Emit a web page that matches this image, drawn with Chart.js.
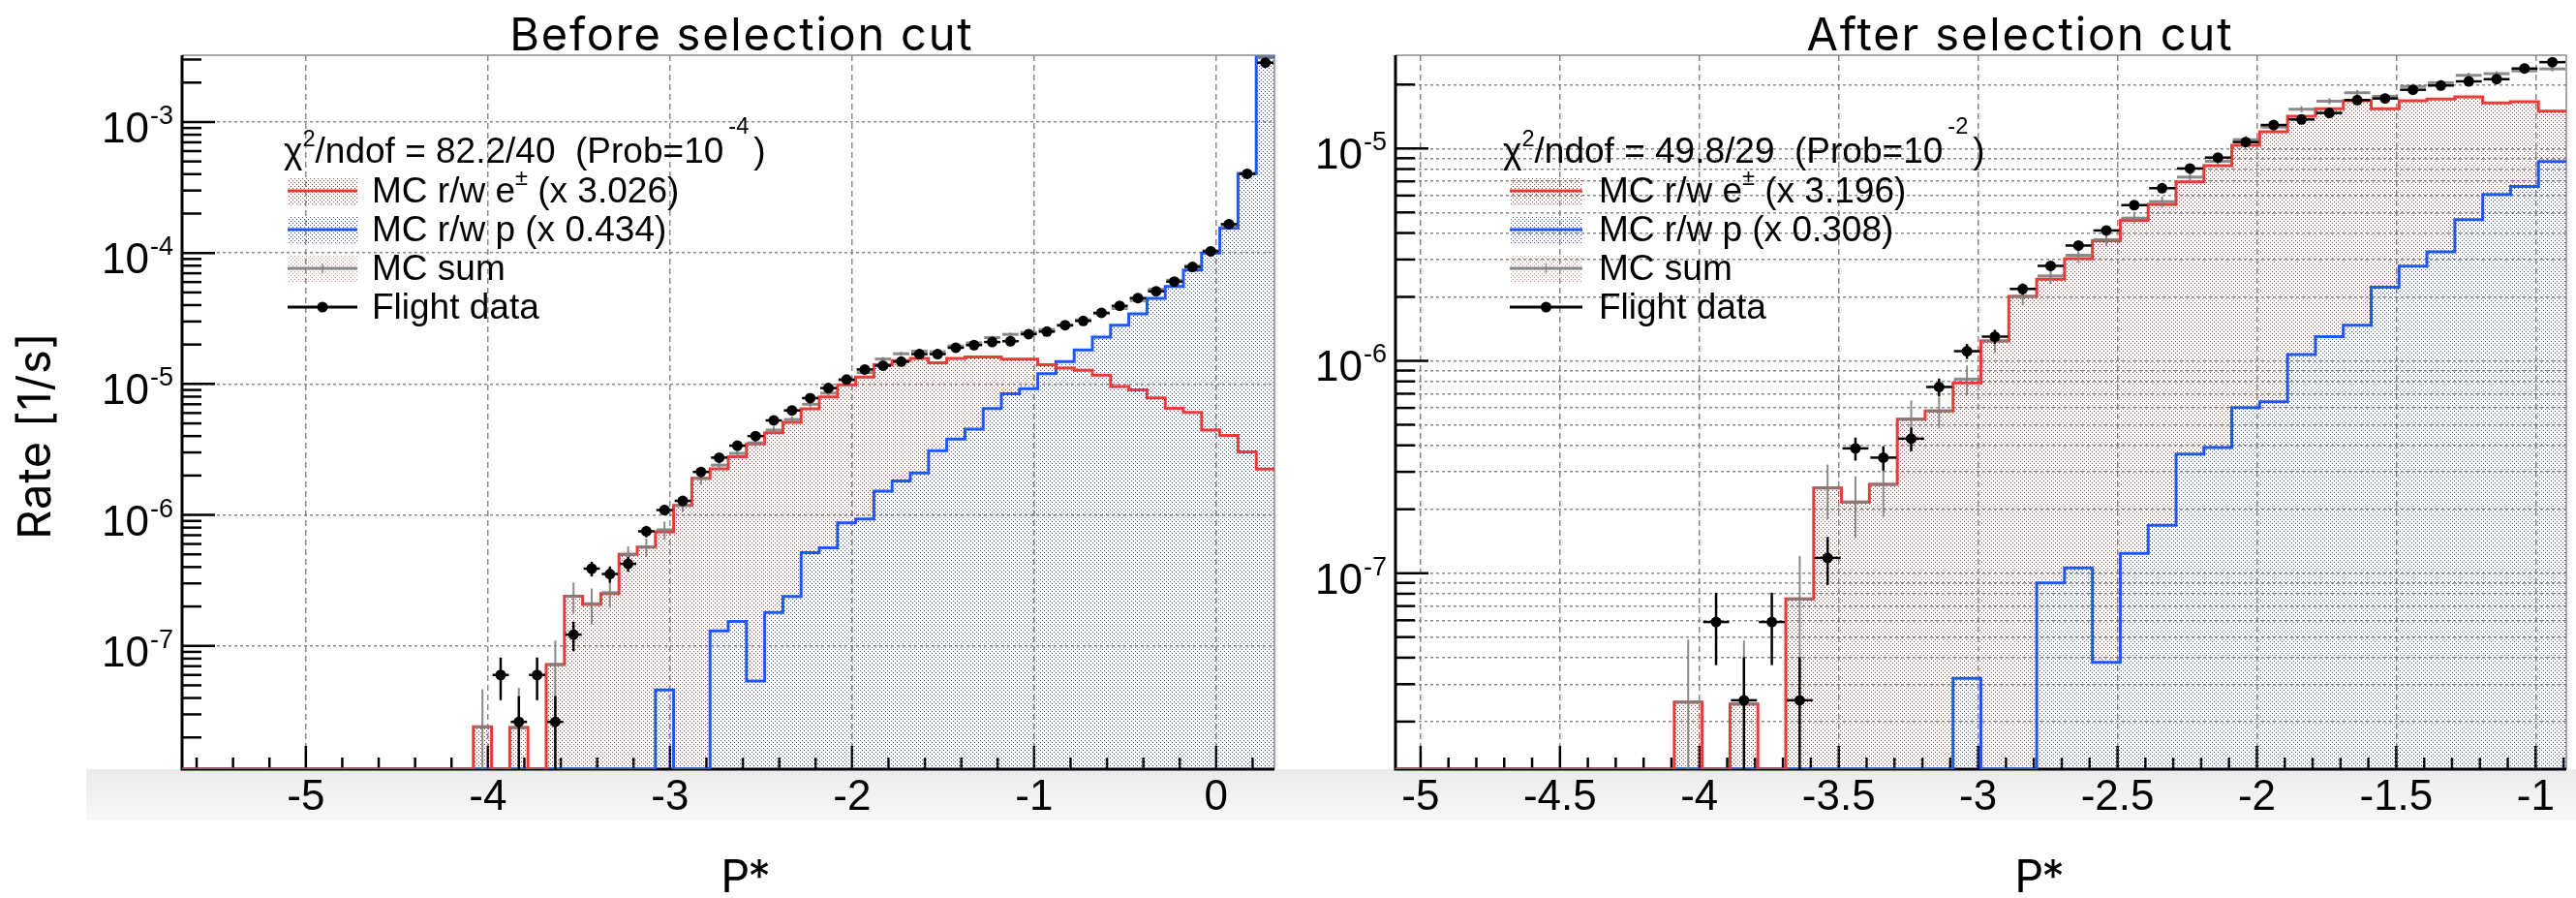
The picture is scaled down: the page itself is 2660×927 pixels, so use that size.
<!DOCTYPE html>
<html>
<head>
<meta charset="utf-8">
<title>P* rate before and after selection cut</title>
<script src="https://cdn.jsdelivr.net/npm/chart.js@4.4.1/dist/chart.umd.min.js"></script>
<style>
  html, body { margin:0; padding:0; background:#fff; }
  body { width:2660px; height:927px; position:relative; overflow:hidden; }
  #band { position:absolute; left:89px; top:794px; width:2571px; height:53px; background:linear-gradient(#ebebeb, #f8f8f8); }
  .panel { position:absolute; top:0; width:1330px; height:927px; }
  #panelL { left:0; }
  #panelR { left:1330px; }
</style>
</head>
<body>
<div id="band"></div>
<div class="panel" id="panelL"><canvas id="chartL"></canvas></div>
<div class="panel" id="panelR"><canvas id="chartR"></canvas></div>
<script>
// ------------------------------------------------------------------
// Data, 0.1-wide bins of P*
// ------------------------------------------------------------------
const BIN_WIDTH = 0.1;

// Left panel: "Before selection cut", 60 bins, first low edge -5.68
const LEFT_FIRST_EDGE = -5.68;
const LEFT_X_RANGE = [-5.68, 0.32];
const LEFT_Y_RANGE = [1.145e-8, 3.237e-3];
const LEFT_X_LABELS = [-5, -4, -3, -2, -1, 0];
const LEFT_Y_DECADES = [-3, -4, -5, -6, -7];
const LEFT_EPM = [
  0,0,0,0,0,0,0,0,0,0,
  0,0,0,0,0,0,2.41e-8,0,2.38e-8,0,
  7.2e-8,2.39e-7,2.07e-7,2.51e-7,5.0e-7,5.67e-7,7.43e-7,1.18e-6,1.90e-6,2.25e-6,
  2.78e-6,3.48e-6,4.24e-6,5.1e-6,6.45e-6,7.96e-6,9.83e-6,1.13e-5,1.40e-5,1.51e-5,
  1.57e-5,1.45e-5,1.57e-5,1.61e-5,1.61e-5,1.55e-5,1.55e-5,1.40e-5,1.32e-5,1.27e-5,
  1.17e-5,9.55e-6,9.0e-6,7.83e-6,6.53e-6,6.07e-6,4.44e-6,4.05e-6,3.03e-6,2.24e-6
];
const LEFT_PROTON = [
  0,0,0,0,0,0,0,0,0,0,
  0,0,0,0,0,0,0,0,0,0,
  0,0,0,0,0,0,4.6e-8,0,0,1.30e-7,
  1.54e-7,5.4e-8,1.8e-7,2.38e-7,5.15e-7,5.6e-7,8.7e-7,9.3e-7,1.52e-6,1.82e-6,
  2.09e-6,3.1e-6,3.8e-6,4.51e-6,6.5e-6,8.4e-6,9.2e-6,1.2e-5,1.48e-5,1.82e-5,
  2.28e-5,2.81e-5,3.43e-5,4.5e-5,5.56e-5,7.4e-5,1.0e-4,1.55e-4,4.03e-4,3.13e-3
];
const LEFT_SUM = [
  0,0,0,0,0,0,0,0,0,0,
  0,0,0,0,0,0,2.41e-8,0,2.38e-8,0,
  7.2e-8,2.4e-7,2.1e-7,2.55e-7,5.0e-7,5.7e-7,7.7e-7,1.18e-6,1.9e-6,2.4e-6,
  2.95e-6,3.55e-6,4.45e-6,5.35e-6,7.0e-6,8.5e-6,1.07e-5,1.22e-5,1.55e-5,1.7e-5,
  1.78e-5,1.76e-5,1.95e-5,2.06e-5,2.26e-5,2.39e-5,2.47e-5,2.6e-5,2.8e-5,3.09e-5,
  3.45e-5,3.77e-5,4.33e-5,5.28e-5,6.2e-5,8.0e-5,1.04e-4,1.59e-4,4.06e-4,3.13e-3
];
const LEFT_SUM_ERR = [
  0,0,0,0,0,0,0,0,0,0,
  0,0,0,0,0,0,2.25e-8,0,2.4e-8,0,
  3.8e-8,6.5e-8,6.4e-8,6e-8,7.5e-8,9e-8,1.2e-7,1.2e-7,2e-7,2e-7,
  2.2e-7,2.5e-7,2.8e-7,3e-7,3.5e-7,4e-7,4.5e-7,5e-7,5.5e-7,6e-7,
  6e-7,6e-7,6.5e-7,7e-7,7e-7,7.5e-7,8e-7,8e-7,8.5e-7,9e-7,
  1e-6,1.1e-6,1.2e-6,1.4e-6,1.6e-6,2e-6,2.5e-6,3.5e-6,7e-6,3e-5
];
const LEFT_DATA = [
  0,0,0,0,0,0,0,0,0,0,
  0,0,0,0,0,0,0,6.0e-8,2.63e-8,6.0e-8,
  2.63e-8,1.22e-7,3.89e-7,3.54e-7,4.23e-7,7.5e-7,1.09e-6,1.28e-6,2.13e-6,2.74e-6,
  3.38e-6,4.0e-6,5.27e-6,6.28e-6,7.8e-6,9.3e-6,1.08e-5,1.29e-5,1.38e-5,1.48e-5,
  1.69e-5,1.69e-5,1.89e-5,1.98e-5,2.09e-5,2.12e-5,2.4e-5,2.51e-5,2.81e-5,3.03e-5,
  3.49e-5,3.95e-5,4.53e-5,5.1e-5,6.05e-5,7.83e-5,1.03e-4,1.66e-4,4.02e-4,2.84e-3
];
const LEFT_DATA_ERR = [
  0,0,0,0,0,0,0,0,0,0,
  0,0,0,0,0,0,0,2.15e-8,1.5e-8,2.15e-8,
  1.5e-8,3.1e-8,5.0e-8,5.0e-8,5.5e-8,7.5e-8,9e-8,1.0e-7,1.3e-7,1.5e-7,
  1.6e-7,1.8e-7,2.0e-7,2.2e-7,2.5e-7,2.7e-7,2.9e-7,3.2e-7,3.3e-7,3.4e-7,
  3.7e-7,3.7e-7,3.9e-7,4.0e-7,4.1e-7,4.1e-7,4.4e-7,4.5e-7,4.7e-7,4.9e-7,
  5.3e-7,5.6e-7,6.0e-7,6.4e-7,7.0e-7,7.9e-7,9.1e-7,1.15e-6,1.8e-6,4.8e-6
];
const LEFT_LEGEND_SCALES = ['3.026', '0.434'];
const LEFT_CHI2 = ['82.2/40', '-4'];

// Right panel: "After selection cut", 42 bins, first low edge -5.09
const RIGHT_FIRST_EDGE = -5.09;
const RIGHT_X_RANGE = [-5.09, -0.89];
const RIGHT_Y_RANGE = [1.194e-8, 2.749e-5];
const RIGHT_X_LABELS = [-5, -4.5, -4, -3.5, -3, -2.5, -2, -1.5, -1];
const RIGHT_Y_DECADES = [-5, -6, -7];
const RIGHT_EPM = [
  0,0,0,0,0,0,0,0,0,0,
  2.47e-8,0,2.42e-8,0,7.56e-8,2.52e-7,2.16e-7,2.62e-7,5.31e-7,5.81e-7,
  7.88e-7,1.24e-6,2.01e-6,2.42e-6,3.03e-6,3.68e-6,4.58e-6,5.45e-6,6.97e-6,8.3e-6,
  1.035e-5,1.2e-5,1.42e-5,1.54e-5,1.68e-5,1.54e-5,1.68e-5,1.71e-5,1.75e-5,1.64e-5,
  1.66e-5,1.5e-5
];
const RIGHT_PROTON = [
  0,0,0,0,0,0,0,0,0,0,
  0,0,0,0,0,0,0,0,0,0,
  3.2e-8,0,0,9.0e-8,1.06e-7,3.8e-8,1.24e-7,1.68e-7,3.64e-7,3.9e-7,
  6.03e-7,6.42e-7,1.07e-6,1.3e-6,1.47e-6,2.22e-6,2.79e-6,3.26e-6,4.62e-6,6.08e-6,
  6.62e-6,8.69e-6
];
const RIGHT_SUM = [
  0,0,0,0,0,0,0,0,0,0,
  2.47e-8,0,2.42e-8,0,7.56e-8,2.52e-7,2.16e-7,2.62e-7,5.31e-7,5.81e-7,
  8.2e-7,1.24e-6,2.01e-6,2.51e-6,3.14e-6,3.72e-6,4.7e-6,5.62e-6,7.33e-6,8.7e-6,
  1.1e-5,1.26e-5,1.53e-5,1.67e-5,1.83e-5,1.76e-5,1.96e-5,2.04e-5,2.21e-5,2.25e-5,
  2.32e-5,2.37e-5
];
const RIGHT_SUM_ERR = [
  0,0,0,0,0,0,0,0,0,0,
  2.4e-8,0,2.4e-8,0,4.5e-8,7.3e-8,7e-8,7.8e-8,1.2e-7,1.0e-7,
  1.3e-7,1.5e-7,1.9e-7,2.1e-7,2.4e-7,2.6e-7,2.9e-7,3.2e-7,3.6e-7,4e-7,
  4.4e-7,4.7e-7,5.2e-7,5.4e-7,5.7e-7,5.6e-7,5.9e-7,6e-7,6.3e-7,6.3e-7,
  6.4e-7,6.5e-7
];
const RIGHT_DATA = [
  0,0,0,0,0,0,0,0,0,0,
  0,5.89e-8,2.52e-8,5.89e-8,2.52e-8,1.18e-7,3.87e-7,3.5e-7,4.3e-7,7.53e-7,
  1.11e-6,1.3e-6,2.18e-6,2.8e-6,3.49e-6,4.11e-6,5.41e-6,6.5e-6,8.05e-6,9.06e-6,
  1.072e-5,1.29e-5,1.37e-5,1.47e-5,1.69e-5,1.72e-5,1.89e-5,1.98e-5,2.07e-5,2.12e-5,
  2.38e-5,2.55e-5
];
const RIGHT_DATA_ERR = [
  0,0,0,0,0,0,0,0,0,0,
  0,2.2e-8,1.5e-8,2.2e-8,1.5e-8,3e-8,4.8e-8,4.6e-8,5.5e-8,7.2e-8,
  9e-8,1e-7,1.3e-7,1.5e-7,1.7e-7,1.8e-7,2.1e-7,2.3e-7,2.5e-7,2.7e-7,
  2.9e-7,3.2e-7,3.3e-7,3.4e-7,3.7e-7,3.7e-7,3.9e-7,4e-7,4.1e-7,4.1e-7,
  4.4e-7,4.5e-7
];
const RIGHT_LEGEND_SCALES = ['3.196', '0.308'];
const RIGHT_CHI2 = ['49.8/29', '-2'];

const TITLES = ['Before selection cut', 'After selection cut'];
const AXIS_TITLES = ['P*', 'Rate [1/s]'];

// ------------------------------------------------------------------
// Styling helpers
// ------------------------------------------------------------------
const RED = '#ee3a37';
const BLUE = '#1d58f6';
const GRID = 'rgba(118,118,118,0.85)';
const NONE = 'rgba(0,0,0,0)';
const TICK_FONT = '"Liberation Sans", Arial, sans-serif';
const TITLE_FONT = 'Inter, Lato, sans-serif';

function dotPattern(rgb) {
  const tile = document.createElement('canvas');
  tile.width = 4; tile.height = 4;
  const g = tile.getContext('2d');
  g.fillStyle = rgb;
  g.fillRect(0, 0, 1, 1);
  g.fillRect(2, 2, 1, 1);
  return g.createPattern(tile, 'repeat');
}
const RED_FILL = dotPattern('rgb(150,72,72)');
const BLUE_FILL = dotPattern('rgb(70,80,150)');

const isNear = (a, b) => Math.abs(a - b) < 1e-6;
function mantissa(v) {
  if (!(v > 0)) return null;
  const e = Math.floor(Math.log10(v) + 1e-9);
  const m = v / Math.pow(10, e);
  let r = Math.round(m);
  if (Math.abs(m - r) > 1e-4) return null;
  if (r === 10) r = 1;
  return (r >= 1 && r <= 9) ? r : null;
}
function histPoints(firstEdge, values, floor) {
  const pts = values.map((v, i) => ({ x: firstEdge + i * BIN_WIDTH, y: v > 0 ? v : floor }));
  const last = values[values.length - 1];
  pts.push({ x: firstEdge + values.length * BIN_WIDTH, y: last > 0 ? last : floor });
  return pts;
}
function markerPoints(firstEdge, values) {
  const pts = [];
  values.forEach((v, i) => { if (v > 0) pts.push({ x: firstEdge + (i + 0.5) * BIN_WIDTH, y: v }); });
  return pts;
}
function gridValues(min, max, step) {
  const out = [];
  for (let k = Math.ceil(min / step - 1e-9); k <= Math.floor(max / step + 1e-9); k++) {
    out.push(Math.round(k * step * 1e6) / 1e6);
  }
  return out;
}
function drawRich(ctx, x, y, parts, size) {
  let cx = x;
  parts.forEach(p => {
    const s = p.sup ? size * 0.64 : size;
    ctx.font = s + 'px ' + TICK_FONT;
    cx += (p.dx || 0);
    ctx.fillText(p.t, cx, y - (p.sup ? (p.raise || 0.42) * size : 0));
    cx += ctx.measureText(p.t).width;
  });
}
// text with letter spacing chosen so that it spans the given width
function spacedText(ctx, text, x, y, size, width) {
  ctx.font = size + 'px ' + TITLE_FONT;
  if ('letterSpacing' in ctx) {
    ctx.letterSpacing = '0px';
    const w = ctx.measureText(text).width;
    const sp = Math.max(-2, Math.min(8, (width - w) / text.length));
    ctx.letterSpacing = sp.toFixed(2) + 'px';
    ctx.fillText(text, x + sp / 2, y);
    ctx.letterSpacing = '0px';
  } else {
    ctx.fillText(text, x, y);
  }
}
function line(ctx, x0, y0, x1, y1) {
  ctx.beginPath(); ctx.moveTo(x0, y0); ctx.lineTo(x1, y1); ctx.stroke();
}

// ------------------------------------------------------------------
// ROOT-like decorations: inward ticks, frame, error bars, texts, legend
// ------------------------------------------------------------------
const rootStyle = {
  id: 'rootStyle',
  beforeDatasetsDraw(chart, args, o) {
    const { ctx, chartArea: a } = chart;
    const xs = chart.scales.x, ys = chart.scales.y;
    ctx.save();
    ctx.strokeStyle = '#000';
    ctx.lineWidth = 2.5;
    xs.ticks.forEach(t => {
      const major = o.xLabels.some(l => isNear(l, t.value));
      const px = xs.getPixelForValue(t.value);
      line(ctx, px, a.bottom, px, a.bottom - (major ? 24 : 12));
    });
    ys.ticks.forEach(t => {
      const m = mantissa(t.value);
      if (m === null) return;
      const py = ys.getPixelForValue(t.value);
      line(ctx, a.left, py, a.left + (m === 1 ? 34 : 20), py);
    });
    ctx.strokeStyle = '#8a8a8a'; ctx.lineWidth = 1.5;
    ctx.beginPath(); ctx.moveTo(a.left, a.top); ctx.lineTo(a.right, a.top); ctx.lineTo(a.right, a.bottom); ctx.stroke();
    ctx.strokeStyle = '#000'; ctx.lineWidth = 3;
    ctx.beginPath(); ctx.moveTo(a.left, a.top); ctx.lineTo(a.left, a.bottom); ctx.lineTo(a.right, a.bottom); ctx.stroke();
    ctx.restore();
  },
  afterDatasetDraw(chart, args, o) {
    if (args.index !== 1) return;
    const { ctx, chartArea: a } = chart;
    const xs = chart.scales.x, ys = chart.scales.y;
    const yOf = v => v <= ys.min ? a.bottom : Math.max(a.top, Math.min(a.bottom, ys.getPixelForValue(v)));
    ctx.save();
    ctx.beginPath(); ctx.rect(a.left, a.top, a.right - a.left, a.bottom - a.top); ctx.clip();
    const bars = (vals, errs, color, wH, wV) => {
      vals.forEach((v, i) => {
        if (!(v > 0)) return;
        const x0 = xs.getPixelForValue(o.firstEdge + i * BIN_WIDTH);
        const x1 = xs.getPixelForValue(o.firstEdge + (i + 1) * BIN_WIDTH);
        const xc = (x0 + x1) / 2, yc = yOf(v);
        ctx.strokeStyle = color;
        ctx.lineWidth = wH; line(ctx, x0 + 1, yc, x1 - 1, yc);
        ctx.lineWidth = wV; line(ctx, xc, yOf(v + errs[i]), xc, yOf(v - errs[i]));
      });
    };
    bars(o.sum, o.sumErr, 'rgba(125,125,125,0.9)', 3, 2);
    bars(o.data, o.dataErr, '#000', 2.5, 2.5);
    ctx.restore();
  },
  afterDraw(chart, args, o) {
    const { ctx, chartArea: a } = chart;
    const ys = chart.scales.y;
    ctx.save();
    ctx.fillStyle = '#000';
    ctx.textBaseline = 'alphabetic';
    // titles
    ctx.textAlign = 'center';
    spacedText(ctx, o.title, o.titleX, 52, 47, o.titleW);
    spacedText(ctx, AXIS_TITLES[0], o.xTitleX, 921, 47, 47);
    if (o.showYTitle) {
      ctx.save(); ctx.translate(52, 450); ctx.rotate(-Math.PI / 2);
      spacedText(ctx, AXIS_TITLES[1], 0, 0, 47, 214);
      ctx.restore();
    }
    // y tick labels 10^n
    o.decades.forEach(d => {
      const py = ys.getPixelForValue(Math.pow(10, d));
      const exp = String(d);
      ctx.textAlign = 'left';
      ctx.font = '27px ' + TICK_FONT;
      const ew = ctx.measureText(exp).width;
      const ex = a.left - 9 - ew;
      ctx.fillText(exp, ex, py + 2);
      ctx.font = '44px ' + TICK_FONT;
      ctx.textAlign = 'right';
      ctx.fillText('10', ex - 1, py + 21);
    });
    // legend
    const L = o.legend;
    const rows = [197, 237, 277, 317];
    const size = 37;
    ctx.textAlign = 'left';
    drawRich(ctx, L.chiX, 168, [
      { t: 'χ' }, { t: '2', sup: true, raise: 0.45 },
      { t: '/ndof = ' + L.chi2[0] + '  (Prob=10' },
      { t: L.chi2[1], sup: true, raise: 0.82, dx: 5 },
      { t: ')', dx: 5 }
    ], size);
    const bx = L.boxX, bw = L.boxW;
    const box = (cy, pat) => { ctx.fillStyle = pat; ctx.fillRect(bx, cy - 14, bw, 29); ctx.fillStyle = '#000'; };
    // e±
    box(rows[0], RED_FILL);
    ctx.strokeStyle = RED; ctx.lineWidth = 3; line(ctx, bx, rows[0], bx + bw, rows[0]);
    drawRich(ctx, L.textX, rows[0] + 12, [
      { t: 'MC r/w e' }, { t: '±', sup: true, raise: 0.5 }, { t: ' (x ' + L.scales[0] + ')' }
    ], size);
    // p
    box(rows[1], BLUE_FILL);
    ctx.strokeStyle = BLUE; ctx.lineWidth = 3; line(ctx, bx, rows[1], bx + bw, rows[1]);
    drawRich(ctx, L.textX, rows[1] + 12, [{ t: 'MC r/w p (x ' + L.scales[1] + ')' }], size);
    // MC sum
    ctx.globalAlpha = 0.6; box(rows[2], RED_FILL); ctx.globalAlpha = 1;
    ctx.strokeStyle = 'rgba(125,125,125,0.9)'; ctx.lineWidth = 3; line(ctx, bx, rows[2], bx + bw, rows[2]);
    ctx.lineWidth = 1.5; line(ctx, bx + bw / 2, rows[2] - 5, bx + bw / 2, rows[2] + 5);
    drawRich(ctx, L.textX, rows[2] + 12, [{ t: 'MC sum' }], size);
    // Flight data
    ctx.strokeStyle = '#000'; ctx.lineWidth = 3; line(ctx, bx, rows[3], bx + bw, rows[3]);
    ctx.beginPath(); ctx.arc(bx + bw / 2, rows[3], 5.5, 0, Math.PI * 2); ctx.fill();
    drawRich(ctx, L.textX, rows[3] + 12, [{ t: 'Flight data' }], size);
    ctx.restore();
  }
};

// ------------------------------------------------------------------
// Chart factory
// ------------------------------------------------------------------
function buildChart(canvasId, p) {
  const yMin = p.yRange[0];
  const redPts = histPoints(p.firstEdge, p.epm, yMin);
  const bluePts = histPoints(p.firstEdge, p.proton, yMin);
  const dataPts = markerPoints(p.firstEdge, p.data);
  const labelFor = v => { const hit = p.xLabels.find(l => isNear(l, v)); return hit === undefined ? '' : String(hit); };
  return new Chart(document.getElementById(canvasId), {
    type: 'line',
    data: {
      datasets: [
        { label: 'Flight data', data: dataPts, showLine: false, pointRadius: 5.5, pointHoverRadius: 5.5,
          pointBackgroundColor: '#000', pointBorderWidth: 0, borderColor: '#000' },
        { label: 'MC r/w e±', data: redPts, stepped: 'before', borderColor: RED, borderWidth: 3,
          pointRadius: 0, fill: false },
        { label: 'MC r/w p', data: bluePts, stepped: 'before', borderColor: BLUE, borderWidth: 3,
          pointRadius: 0, fill: false },
        { label: 'p fill', data: bluePts, stepped: 'before', borderColor: NONE, borderWidth: 1,
          pointRadius: 0, fill: 'start', backgroundColor: BLUE_FILL },
        { label: 'e fill', data: redPts, stepped: 'before', borderColor: NONE, borderWidth: 1,
          pointRadius: 0, fill: 'start', backgroundColor: RED_FILL }
      ]
    },
    options: {
      responsive: true,
      maintainAspectRatio: false,
      animation: false,
      events: [],
      layout: { padding: { top: 57, right: p.padRight, left: 0, bottom: 0 } },
      plugins: {
        legend: { display: false },
        tooltip: { enabled: false },
        rootStyle: {
          firstEdge: p.firstEdge, xLabels: p.xLabels,
          sum: p.sum, sumErr: p.sumErr, data: p.data, dataErr: p.dataErr,
          title: p.title, titleX: p.titleX, titleW: p.titleW, xTitleX: p.xTitleX, showYTitle: p.showYTitle,
          decades: p.decades, legend: p.legend
        }
      },
      scales: {
        x: {
          type: 'linear', min: p.xRange[0], max: p.xRange[1],
          afterFit: s => { s.height = 133; },
          afterBuildTicks: s => { s.ticks = gridValues(p.xRange[0], p.xRange[1], p.xMinorStep).map(v => ({ value: v })); },
          ticks: {
            autoSkip: false, maxRotation: 0, minRotation: 0, padding: 3,
            color: '#000', font: { family: TICK_FONT, size: 44 }, callback: v => labelFor(v)
          },
          grid: { drawTicks: false, lineWidth: 1.5,
                  color: c => (c.tick && labelFor(c.tick.value) !== '') ? GRID : NONE },
          border: { display: false, dash: [6, 4] }
        },
        y: {
          type: 'logarithmic', min: p.yRange[0], max: p.yRange[1],
          afterFit: s => { s.width = p.axisLeft; },
          ticks: { display: false },
          grid: { drawTicks: false, lineWidth: 1.5,
                  color: c => {
                    const m = c.tick ? mantissa(c.tick.value) : null;
                    if (m === null) return NONE;
                    return (p.allMinorGrid || m === 1) ? GRID : NONE;
                  } },
          border: { display: false, dash: [3, 3] }
        }
      }
    },
    plugins: [rootStyle]
  });
}

buildChart('chartL', {
  firstEdge: LEFT_FIRST_EDGE, xRange: LEFT_X_RANGE, yRange: LEFT_Y_RANGE,
  epm: LEFT_EPM, proton: LEFT_PROTON, sum: LEFT_SUM, sumErr: LEFT_SUM_ERR,
  data: LEFT_DATA, dataErr: LEFT_DATA_ERR,
  xLabels: LEFT_X_LABELS, xMinorStep: 0.2, decades: LEFT_Y_DECADES, allMinorGrid: false,
  axisLeft: 188, padRight: 14,
  title: TITLES[0], titleX: 765, titleW: 479, xTitleX: 770, showYTitle: true,
  legend: { chiX: 293, boxX: 297, boxW: 72, textX: 384, chi2: LEFT_CHI2, scales: LEFT_LEGEND_SCALES }
});
buildChart('chartR', {
  firstEdge: RIGHT_FIRST_EDGE, xRange: RIGHT_X_RANGE, yRange: RIGHT_Y_RANGE,
  epm: RIGHT_EPM, proton: RIGHT_PROTON, sum: RIGHT_SUM, sumErr: RIGHT_SUM_ERR,
  data: RIGHT_DATA, dataErr: RIGHT_DATA_ERR,
  xLabels: RIGHT_X_LABELS, xMinorStep: 0.1, decades: RIGHT_Y_DECADES, allMinorGrid: true,
  axisLeft: 111, padRight: 10,
  title: TITLES[1], titleX: 755, titleW: 441, xTitleX: 776, showYTitle: false,
  legend: { chiX: 222, boxX: 229, boxW: 75, textX: 321, chi2: RIGHT_CHI2, scales: RIGHT_LEGEND_SCALES }
});
</script>
</body>
</html>
